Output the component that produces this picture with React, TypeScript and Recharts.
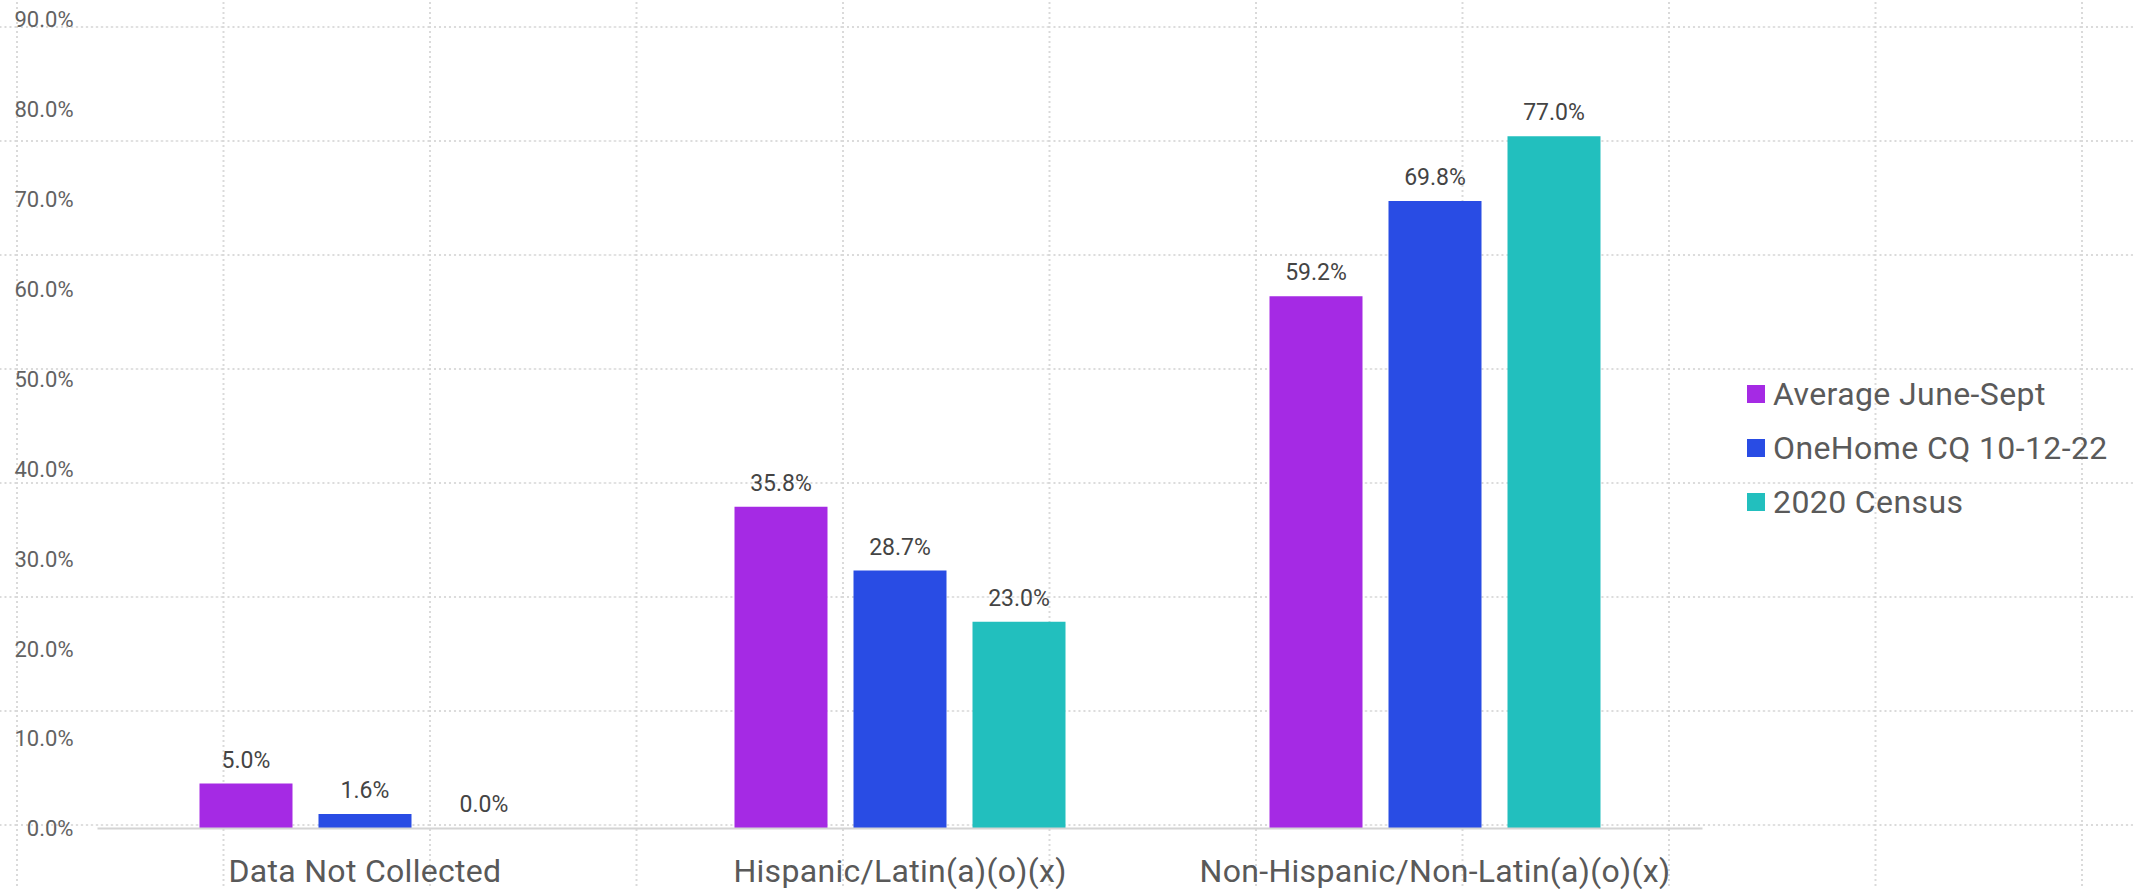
import React from 'react';
import { BarChart, Bar, XAxis, YAxis, LabelList, Legend } from 'recharts';

// Categories and series values (percent)
const categories = ['Data Not Collected', 'Hispanic/Latin(a)(o)(x)', 'Non-Hispanic/Non-Latin(a)(o)(x)'];
const avgJuneSept = [5.0, 35.8, 59.2];
const oneHomeCQ = [1.6, 28.7, 69.8];
const census2020 = [0.0, 23.0, 77.0];
const yTicks = [0, 10, 20, 30, 40, 50, 60, 70, 80, 90];

const seriesKeys = ['avg', 'onehome', 'census'];
const seriesNames = ['Average June-Sept', 'OneHome CQ 10-12-22', '2020 Census'];
const seriesColors = ['#A52AE4', '#294CE4', '#22BFBE'];

const data = categories.map((name, i) => ({
  name,
  avg: avgJuneSept[i],
  onehome: oneHomeCQ[i],
  census: census2020[i],
}));

const W = 2133;
const H = 889;
const FONT = "Roboto, 'Liberation Sans', Arial, sans-serif";

const pct = (v: number) => `${Number(v).toFixed(1)}%`;

// Zero-valued bars get a sub-pixel height so their value label is still placed
const zeroSafeSize = (value: unknown) => (Number(value) === 0 ? 0.01 : 0);

// Dotted canvas grid drawn behind the chart
function CanvasGrid() {
  return (
    <svg width={W} height={H} style={{ position: 'absolute', left: 0, top: 0 }}>
      <defs>
        <pattern id="canvasGrid" x={16} y={26} width={206.5} height={114} patternUnits="userSpaceOnUse">
          <line x1={0} y1={1} x2={206.5} y2={1} stroke="#dadada" strokeWidth={2} strokeDasharray="2 3" />
          <line x1={1} y1={0} x2={1} y2={114} stroke="#dadada" strokeWidth={2} strokeDasharray="2 3" />
        </pattern>
      </defs>
      <rect x={0} y={0} width={W} height={H} fill="url(#canvasGrid)" />
    </svg>
  );
}

// Legend rows in series order
function LegendContent() {
  return (
    <div style={{ fontFamily: FONT }}>
      {seriesNames.map((name, i) => (
        <div key={name} style={{ display: 'flex', alignItems: 'center', height: 54 }}>
          <div style={{ width: 18, height: 18, background: seriesColors[i], marginRight: 8 }} />
          <span style={{ fontSize: 32, color: '#5a5a5a', letterSpacing: 0.4, whiteSpace: 'nowrap' }}>{name}</span>
        </div>
      ))}
    </div>
  );
}

export default function App() {
  return (
    <div style={{ position: 'absolute', left: 0, top: 0, width: W, height: H, background: '#ffffff', fontFamily: FONT, overflow: 'hidden' }}>
      <CanvasGrid />
      <div style={{ position: 'absolute', left: 0, top: 0 }}>
        <BarChart
          width={W}
          height={H}
          data={data}
          margin={{ top: 19.5, right: 430.5, bottom: 0, left: 0 }}
          barSize={93}
          barGap={26}
        >
          <XAxis
            dataKey="name"
            interval={0}
            height={60.5}
            tickLine={false}
            tickSize={0}
            tickMargin={31}
            axisLine={{ stroke: '#d4d4d4', strokeWidth: 2 }}
            tick={{ fill: '#595959', fontSize: 32, letterSpacing: 0.3 }}
          />
          <YAxis
            type="number"
            domain={[0, 90]}
            ticks={yTicks}
            width={97.5}
            axisLine={false}
            tickLine={false}
            tickSize={0}
            tickMargin={24}
            tickFormatter={pct}
            tick={{ fill: '#626262', fontSize: 22 }}
          />
          <Legend
            layout="vertical"
            align="center"
            verticalAlign="middle"
            wrapperStyle={{ left: 1747, top: 367, width: 386, height: 162 }}
            content={<LegendContent />}
          />
          {seriesKeys.map((k, i) => (
            <Bar
              key={k}
              dataKey={k}
              name={seriesNames[i]}
              fill={seriesColors[i]}
              minPointSize={zeroSafeSize}
              isAnimationActive={false}
            >
              <LabelList dataKey={k} position="top" offset={16} formatter={pct} fill="#444444" fontSize={23} />
            </Bar>
          ))}
        </BarChart>
      </div>
    </div>
  );
}
